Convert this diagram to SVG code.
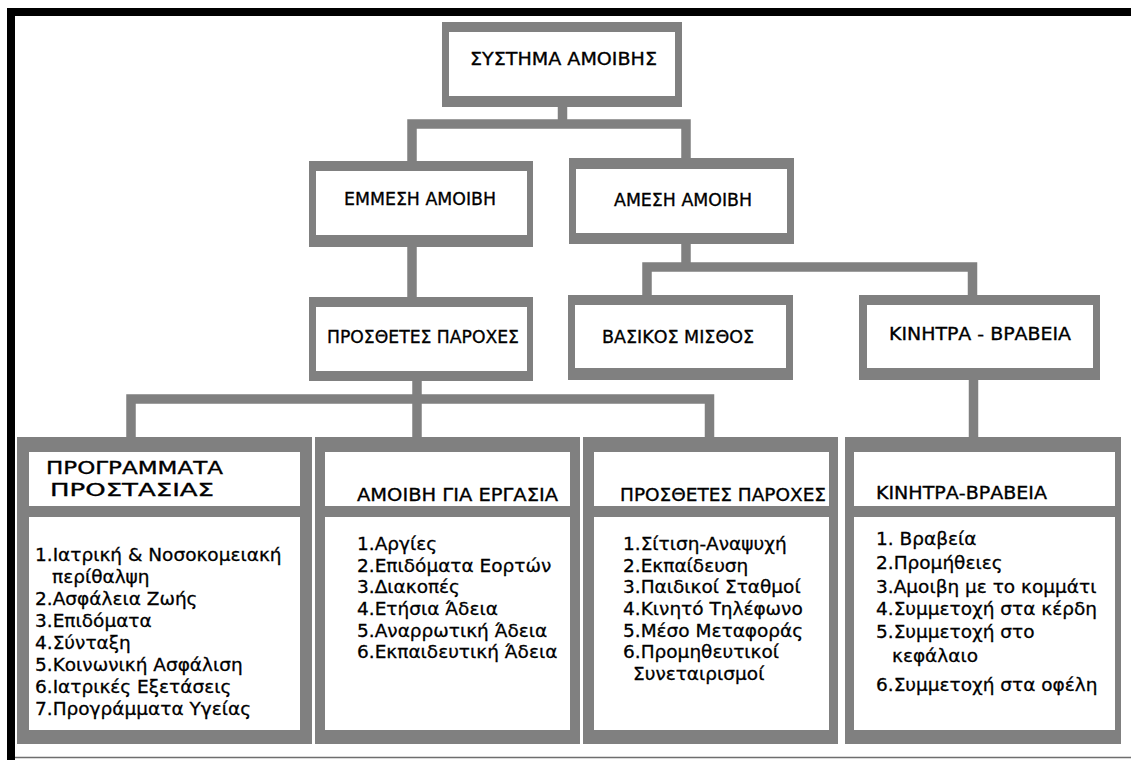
<svg xmlns="http://www.w3.org/2000/svg" width="1131" height="760" viewBox="0 0 1131 760">
<style>
.o{fill:#808080}
.i{fill:#fff}
.c{fill:none;stroke:#808080;stroke-width:9.5;stroke-linejoin:miter;stroke-linecap:butt}
.h{font-family:"DejaVu Sans","Noto Sans",sans-serif;font-size:18.5px;fill:#000;stroke:#000;stroke-width:0.35}
.l{font-family:"DejaVu Sans","Noto Sans",sans-serif;font-size:18.5px;fill:#000;stroke:#000;stroke-width:0.3}
</style>
<rect x="0" y="0" width="1131" height="760" fill="#fff"/>
<g id="frame">
<rect x="7" y="8" width="1124" height="8" fill="#000"/>
<rect x="7" y="8" width="8" height="752" fill="#000"/>
<line x1="15" y1="757.5" x2="1131" y2="757.5" stroke="#6e6e6e" stroke-width="1.5"/>
</g>
<g id="connectors">
<path class="c" d="M562.5,107 V124"/>
<path class="c" d="M412,161 V124 H686 V158"/>
<path class="c" d="M412,247 V297"/>
<path class="c" d="M686,244 V267"/>
<path class="c" d="M647,295 V267 H972.5 V295"/>
<path class="c" d="M973.5,380 V437"/>
<path class="c" d="M417,381 V437"/>
<path class="c" d="M131,437 V399 H709.5 V437"/>
</g>
<g id="n-systima">
<rect class="o" x="442" y="22" width="240" height="85"/>
<rect class="i" x="449" y="32" width="226" height="64"/>
<text class="h" x="470" y="65" textLength="187" lengthAdjust="spacingAndGlyphs">ΣΥΣΤΗΜΑ ΑΜΟΙΒΗΣ</text>
</g>
<g id="n-emmesi">
<rect class="o" x="309" y="161" width="224" height="86"/>
<rect class="i" x="316" y="171" width="211" height="64"/>
<text class="h" x="344" y="205" textLength="152" lengthAdjust="spacingAndGlyphs">ΕΜΜΕΣΗ ΑΜΟΙΒΗ</text>
</g>
<g id="n-amesi">
<rect class="o" x="569" y="158" width="225" height="86"/>
<rect class="i" x="576" y="169" width="211" height="64"/>
<text class="h" x="614" y="206" textLength="138" lengthAdjust="spacingAndGlyphs">ΑΜΕΣΗ ΑΜΟΙΒΗ</text>
</g>
<g id="n-prostheteshead">
<rect class="o" x="309" y="297" width="224" height="84"/>
<rect class="i" x="316" y="307" width="211" height="64"/>
<text class="h" x="327" y="343" textLength="192" lengthAdjust="spacingAndGlyphs">ΠΡΟΣΘΕΤΕΣ ΠΑΡΟΧΕΣ</text>
</g>
<g id="n-vasikos">
<rect class="o" x="568" y="295" width="225" height="85"/>
<rect class="i" x="575" y="305" width="211" height="63"/>
<text class="h" x="602" y="343" textLength="152" lengthAdjust="spacingAndGlyphs">ΒΑΣΙΚΟΣ ΜΙΣΘΟΣ</text>
</g>
<g id="n-kinitrahead">
<rect class="o" x="859" y="295" width="241" height="85"/>
<rect class="i" x="867" y="305" width="226" height="63"/>
<text class="h" x="889" y="340" textLength="182" lengthAdjust="spacingAndGlyphs">ΚΙΝΗΤΡΑ - ΒΡΑΒΕΙΑ</text>
</g>
<g id="n-programmata">
<rect class="o" x="17" y="437" width="295" height="307"/>
<rect class="i" x="29" y="452" width="271" height="54"/>
<rect class="i" x="29" y="517" width="271" height="213"/>
<text class="h" x="46" y="474" textLength="177" lengthAdjust="spacingAndGlyphs">ΠΡΟΓΡΑΜΜΑΤΑ</text>
<text class="h" x="50" y="496" textLength="164" lengthAdjust="spacingAndGlyphs">ΠΡΟΣΤΑΣΙΑΣ</text>
<text class="l" x="35" y="561">1.Ιατρική &amp; Νοσοκομειακή</text>
<text class="l" x="52" y="583">περίθαλψη</text>
<text class="l" x="35" y="605">2.Ασφάλεια Ζωής</text>
<text class="l" x="35" y="627">3.Επιδόματα</text>
<text class="l" x="35" y="649">4.Σύνταξη</text>
<text class="l" x="35" y="671">5.Κοινωνική Ασφάλιση</text>
<text class="l" x="35" y="693">6.Ιατρικές Εξετάσεις</text>
<text class="l" x="35" y="715">7.Προγράμματα Υγείας</text>
</g>
<g id="n-amoivi-ergasia">
<rect class="o" x="315" y="437" width="265" height="307"/>
<rect class="i" x="325" y="452" width="245" height="54"/>
<rect class="i" x="325" y="517" width="245" height="213"/>
<text class="h" x="357" y="501" textLength="201" lengthAdjust="spacingAndGlyphs">ΑΜΟΙΒΗ ΓΙΑ ΕΡΓΑΣΙΑ</text>
<text class="l" x="357" y="550">1.Αργίες</text>
<text class="l" x="357" y="572">2.Επιδόματα Εορτών</text>
<text class="l" x="357" y="593">3.Διακοπές</text>
<text class="l" x="357" y="615">4.Ετήσια Άδεια</text>
<text class="l" x="357" y="637">5.Αναρρωτική Άδεια</text>
<text class="l" x="357" y="658">6.Εκπαιδευτική Άδεια</text>
</g>
<g id="n-prostheteslist">
<rect class="o" x="583" y="437" width="255" height="307"/>
<rect class="i" x="594" y="452" width="235" height="54"/>
<rect class="i" x="594" y="517" width="235" height="213"/>
<text class="h" x="620" y="501" textLength="206" lengthAdjust="spacingAndGlyphs">ΠΡΟΣΘΕΤΕΣ ΠΑΡΟΧΕΣ</text>
<text class="l" x="623" y="550">1.Σίτιση-Αναψυχή</text>
<text class="l" x="623" y="572">2.Εκπαίδευση</text>
<text class="l" x="623" y="593">3.Παιδικοί Σταθμοί</text>
<text class="l" x="623" y="615">4.Κινητό Τηλέφωνο</text>
<text class="l" x="623" y="637">5.Μέσο Μεταφοράς</text>
<text class="l" x="623" y="658">6.Προμηθευτικοί</text>
<text class="l" x="633" y="680">Συνεταιρισμοί</text>
</g>
<g id="n-kinitralist">
<rect class="o" x="845" y="437" width="276" height="307"/>
<rect class="i" x="854" y="452" width="261" height="54"/>
<rect class="i" x="854" y="517" width="261" height="213"/>
<text class="h" x="876" y="499" textLength="171" lengthAdjust="spacingAndGlyphs">ΚΙΝΗΤΡΑ-ΒΡΑΒΕΙΑ</text>
<text class="l" x="876" y="545">1. Βραβεία</text>
<text class="l" x="876" y="569">2.Προμήθειες</text>
<text class="l" x="876" y="593">3.Αμοιβη με το κομμάτι</text>
<text class="l" x="876" y="615">4.Συμμετοχή στα κέρδη</text>
<text class="l" x="876" y="638">5.Συμμετοχή στο</text>
<text class="l" x="892" y="662">κεφάλαιο</text>
<text class="l" x="876" y="691">6.Συμμετοχή στα οφέλη</text>
</g>
</svg>
